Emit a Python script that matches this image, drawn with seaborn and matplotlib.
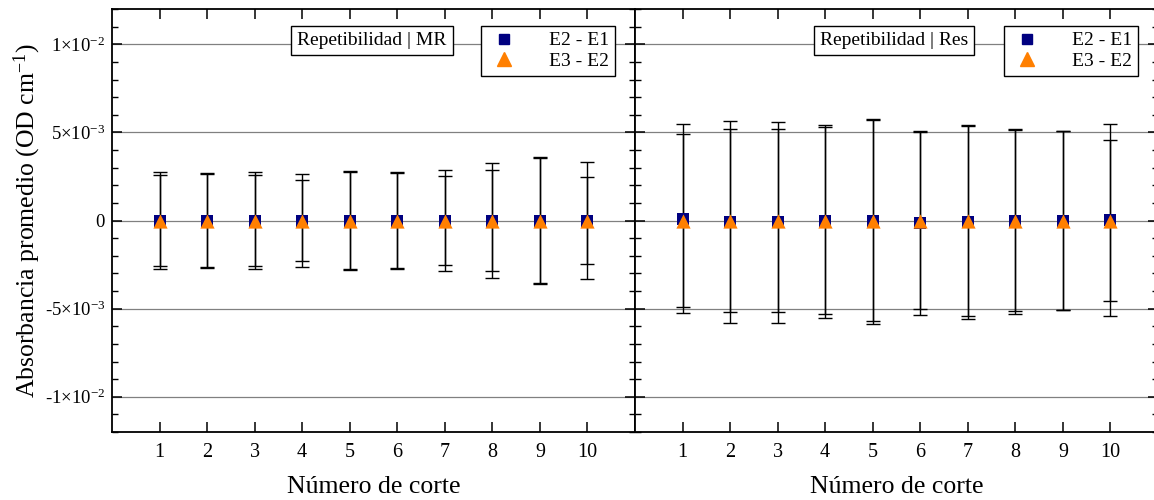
import numpy as np
import pandas as pd
import matplotlib
matplotlib.use("Agg")
import matplotlib.pyplot as plt
import seaborn as sns
from matplotlib.ticker import MultipleLocator, FixedLocator, FixedFormatter
from matplotlib.lines import Line2D

# ---------------- data ----------------
cortes = [1, 2, 3, 4, 5, 6, 7, 8, 9, 10]
series = ["E2 - E1", "E3 - E2"]

# Repetibilidad | MR
mr_mean_e21 = [0, 0, 0, 0, 0, 0, 0, 0, 0, 0]
mr_mean_e32 = [0, 0, 0, 0, 0, 0, 0, 0, 0, 0]
mr_err_e21 = [2.76e-3, 2.68e-3, 2.78e-3, 2.66e-3, 2.79e-3, 2.76e-3, 2.88e-3, 3.26e-3, 3.58e-3, 3.34e-3]
mr_err_e32 = [2.58e-3, 2.61e-3, 2.57e-3, 2.27e-3, 2.75e-3, 2.69e-3, 2.54e-3, 2.88e-3, 3.52e-3, 2.49e-3]

# Repetibilidad | Res
res_mean_e21 = [1.0e-4, -1.0e-4, -1.0e-4, -0.5e-4, -0.5e-4, -1.5e-4, -1.0e-4, -0.5e-4, 0.0, 0.5e-4]
res_mean_e32 = [0, 0, 0, 0, 0, 0, 0, 0, 0, 0]
res_err_e21 = [5.37e-3, 5.72e-3, 5.70e-3, 5.48e-3, 5.82e-3, 5.21e-3, 5.47e-3, 5.25e-3, 5.07e-3, 5.45e-3]
res_err_e32 = [4.90e-3, 5.19e-3, 5.21e-3, 5.28e-3, 5.70e-3, 5.00e-3, 5.40e-3, 5.15e-3, 5.05e-3, 4.56e-3]

titles = ["Repetibilidad | MR", "Repetibilidad | Res"]
xlabel = "Número de corte"
ylabel = "Absorbancia promedio (OD cm$^{-1}$)"
ytick_vals = [-1e-2, -5e-3, 0, 5e-3, 1e-2]
ytick_labels = [r"-1$\times$10$^{-2}$", r"-5$\times$10$^{-3}$", "0",
                r"5$\times$10$^{-3}$", r"1$\times$10$^{-2}$"]

colors = {"E2 - E1": "#000080", "E3 - E2": "#FF7F00"}
markers = {"E2 - E1": "s", "E3 - E2": "^"}
sizes = {"E2 - E1": 85, "E3 - E2": 105}

# ---------------- style ----------------
sns.set_theme(style="white")
plt.rcParams["font.family"] = ["Liberation Serif", "DejaVu Serif"]
plt.rcParams["mathtext.fontset"] = "custom"
plt.rcParams["mathtext.rm"] = "Liberation Serif"
plt.rcParams["mathtext.it"] = "Liberation Serif:italic"
plt.rcParams["mathtext.bf"] = "Liberation Serif:bold"
for k in ["text.color", "axes.labelcolor", "xtick.color", "ytick.color",
          "xtick.labelcolor", "ytick.labelcolor"]:
    plt.rcParams[k] = "black"

fig = plt.figure(figsize=(11.54, 5.0), dpi=100)
W, H = 1154, 500
x0, xm, x1 = 112, 635, 1158
ytop, ybot = 9, 432
axL = fig.add_axes([x0 / W, 1 - ybot / H, (xm - x0) / W, (ybot - ytop) / H])
axR = fig.add_axes([xm / W, 1 - ybot / H, (x1 - xm) / W, (ybot - ytop) / H])

panels = [
    (axL, mr_mean_e21, mr_mean_e32, mr_err_e21, mr_err_e32),
    (axR, res_mean_e21, res_mean_e32, res_err_e21, res_err_e32),
]

for i, (ax, m21, m32, e21, e32) in enumerate(panels):
    df = pd.DataFrame({
        "corte": cortes * 2,
        "valor": list(m21) + list(m32),
        "err": list(e21) + list(e32),
        "serie": [series[0]] * len(cortes) + [series[1]] * len(cortes),
    })
    for s in series:
        d = df[df["serie"] == s]
        ax.errorbar(d["corte"], d["valor"], yerr=d["err"], fmt="none",
                    ecolor="black", elinewidth=1.0, capsize=5, capthick=1.0,
                    zorder=3)
    for s in series:
        d = df[df["serie"] == s]
        sns.scatterplot(data=d, x="corte", y="valor", color=colors[s],
                        marker=markers[s], s=sizes[s], linewidth=0,
                        ax=ax, legend=False, zorder=4)

    ax.set_xlim(0, 11)
    ax.set_ylim(-0.012, 0.012)
    ax.xaxis.set_major_locator(FixedLocator(cortes))
    ax.yaxis.set_major_locator(FixedLocator(ytick_vals))
    ax.yaxis.set_minor_locator(MultipleLocator(1e-3))
    ax.grid(True, axis="y", which="major", color="#808080", linewidth=0.9, zorder=0)
    ax.set_axisbelow(True)
    ax.tick_params(axis="both", which="both", direction="in",
                   top=True, right=True, bottom=True, left=True,
                   color="black", labelcolor="black")
    ax.tick_params(axis="x", labelsize=14.5, pad=8)
    ax.tick_params(axis="y", labelsize=13.5, pad=5)
    ax.tick_params(axis="both", which="major", length=7, width=1.1)
    ax.tick_params(axis="both", which="minor", length=4, width=1.0)
    for sp in ax.spines.values():
        sp.set_color("black")
        sp.set_linewidth(1.3)
    ax.set_xlabel(xlabel, fontsize=18.5, labelpad=10, color="black")
    if i == 0:
        ax.yaxis.set_major_formatter(FixedFormatter(ytick_labels))
        ax.set_ylabel(ylabel, fontsize=18.5, color="black")
        ax.yaxis.set_label_coords((43 - x0) / (xm - x0), 0.5)
    else:
        ax.set_yticklabels([])
        ax.set_ylabel("")

    # title box
    tx = 372 if i == 0 else 894
    axw0 = x0 if i == 0 else xm
    axw = (xm - x0) if i == 0 else (x1 - xm)
    ax.text((tx - axw0) / axw, 1 - (40.5 - ytop) / (ybot - ytop), titles[i],
            transform=ax.transAxes, ha="center", va="center", fontsize=14, zorder=6,
            color="black",
            bbox=dict(boxstyle="square,pad=0.3", facecolor="white",
                      edgecolor="black", linewidth=1.0))

    handles = [Line2D([], [], linestyle="none", marker=markers[s], color=colors[s],
                      markersize=7 if s == "E2 - E1" else 10) for s in series]
    lx = 615 if i == 0 else 1138
    leg = ax.legend(handles, series, loc="upper right",
                    bbox_to_anchor=((lx - axw0) / axw, 1 - (26 - ytop) / (ybot - ytop)),
                    fontsize=14, frameon=True, fancybox=False, framealpha=1,
                    edgecolor="black", borderpad=0.3, handletextpad=1.4,
                    labelspacing=0.15, borderaxespad=0, handlelength=1.8)
    leg.get_frame().set_linewidth(1.0)
    leg.set_zorder(6)
    for t in leg.get_texts():
        t.set_color("black")

fig.savefig("out.png", dpi=100)
